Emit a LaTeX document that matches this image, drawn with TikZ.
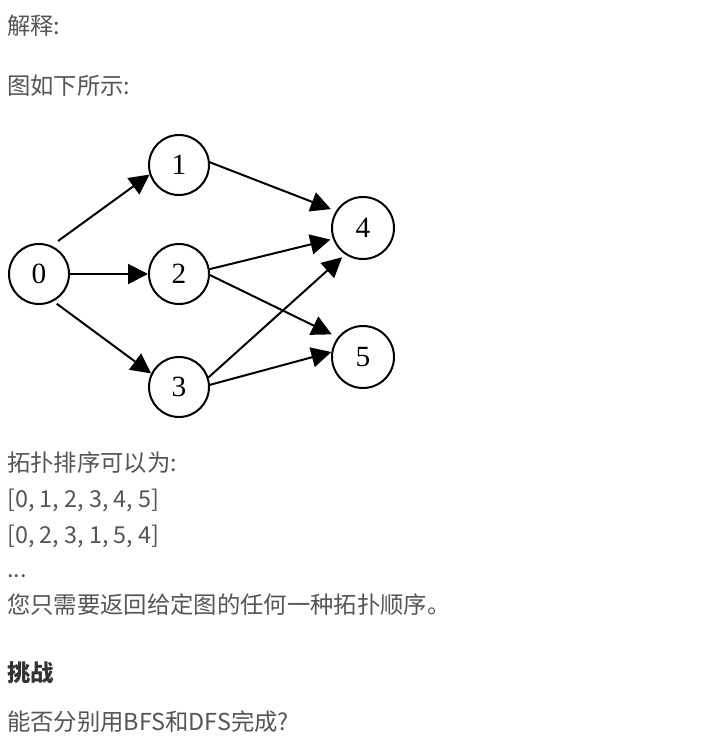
\documentclass[tikz,border=0pt]{standalone}
\usepackage{fontspec}
\setmainfont{Noto Sans CJK SC}
\newfontfamily\numfont{Liberation Serif}
\usetikzlibrary{arrows.meta}
\definecolor{txt}{HTML}{555555}
\definecolor{boldtxt}{HTML}{333333}
\begin{document}
\begin{tikzpicture}[x=0.75pt,y=-0.75pt,
  vtx/.style={circle,draw=black,line width=1.5pt,minimum size=45pt,inner sep=0pt,font=\numfont\fontsize{22pt}{22pt}\selectfont},
  edge/.style={line width=1.5pt,-{Triangle[length=15pt,width=15pt]}},
  para/.style={anchor=base west,inner sep=0pt,text=txt,font=\fontsize{17.5pt}{21pt}\selectfont},
  bpara/.style={anchor=base west,inner sep=0pt,text=boldtxt,font=\bfseries\fontsize{17.5pt}{21pt}\selectfont}]
\fill[white] (0,0) rectangle (724,755);
\useasboundingbox (0,0) rectangle (724,755);

\node[para] (t1) at (7,35) {解释:};
\node[para] (t2) at (7,95) {图如下所示:};

\node[vtx] (n0) at (39,274) {0};
\node[vtx] (n1) at (179,165) {1};
\node[vtx] (n2) at (179,274) {2};
\node[vtx] (n3) at (179,387) {3};
\node[vtx,minimum size=46.5pt] (n4) at (363,228) {4};
\node[vtx,minimum size=46.5pt] (n5) at (363,357) {5};

\draw[edge,shorten <=6pt] (n0.66) -- (n1.198);
\draw[edge] (n0) -- (n2);
\draw[edge,shorten <=3pt] (n0.-62) -- (n3.154);
\draw[edge,shorten >=4pt] (n1.5) -- (n4.148);
\draw[edge,shorten >=2pt] (n2.9) -- (n4.200);
\draw[edge,shorten >=5pt] (n2.-2) -- (n5.142);
\draw[edge,shorten >=3pt] (n3.18) -- (n4.236);
\draw[edge] (n3.4) -- (n5.171);

\node[para] (t3) at (7,471) {拓扑排序可以为:};
\node[para] (t4) at (7,507) {[0, 1, 2, 3, 4, 5]};
\node[para] (t5) at (7,543) {[0, 2, 3, 1, 5, 4]};
\node[para] (t6) at (7,577) {...};
\node[para] (t7) at (7,613) {您只需要返回给定图的任何一种拓扑顺序。};
\node[bpara] (t8) at (7,681) {挑战};
\node[para] (t9) at (7,730) {能否分别用BFS和DFS完成?};
\end{tikzpicture}
\end{document}
